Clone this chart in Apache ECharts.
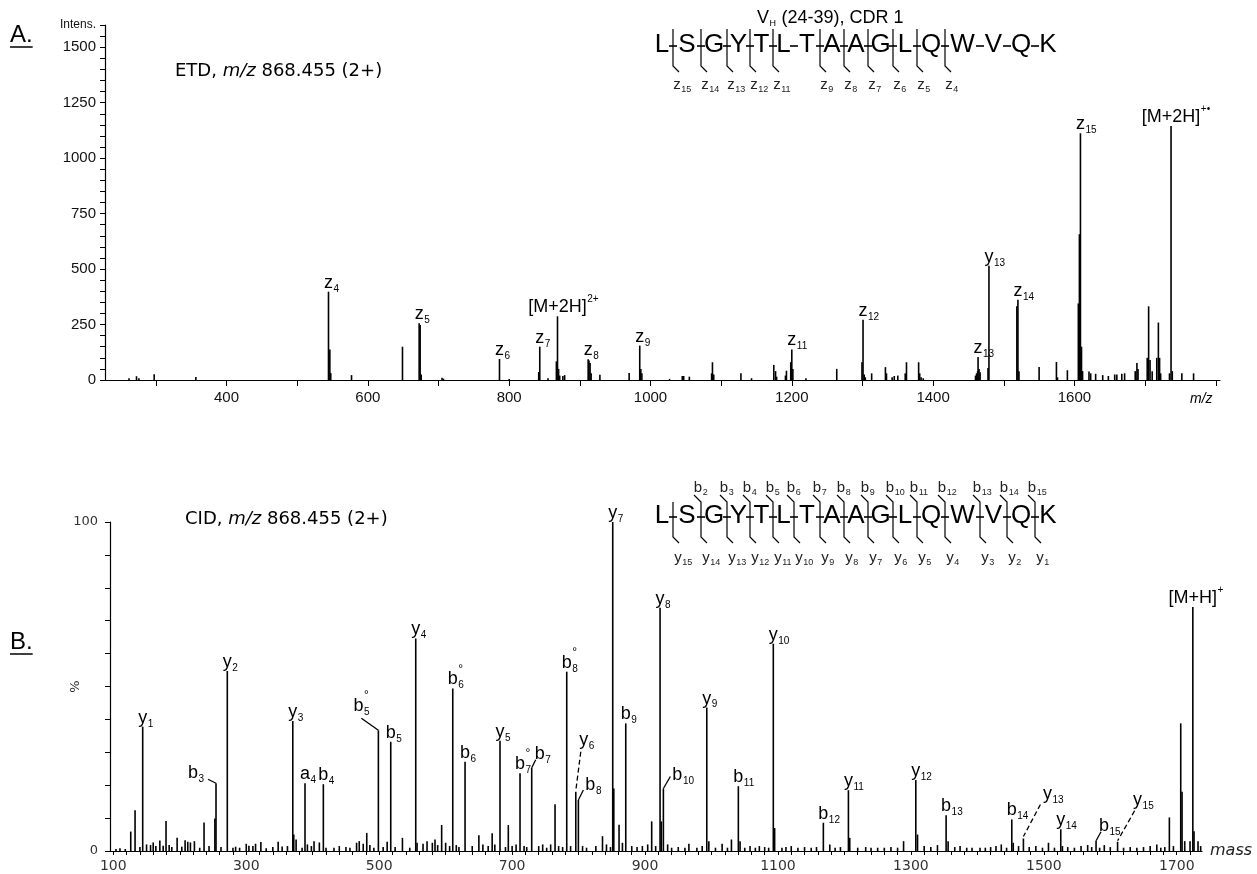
<!DOCTYPE html>
<html>
<head>
<meta charset="utf-8">
<script src="https://cdn.jsdelivr.net/npm/echarts@6/dist/echarts.min.js"></script>
<style>
  html, body { margin: 0; padding: 0; background: #fff; }
  #chart { width: 1257px; height: 874px; }
</style>
</head>
<body>
<div id="chart"></div>
<script>
// ---------- Panel A: ETD spectrum of m/z 868.455 (2+) ----------
const etdMz = [
  262, 272.6, 276, 297.6, 356.6,
  544.3, 546.2, 547.5, 576.9,
  649, 672.6, 674, 675.5, 705, 707,
  786.3, 800, 841.8, 843.3, 855,
  866.8, 868.4, 870, 871.5, 876, 878.5,
  911.8, 913, 914.5, 916, 928.4, 969.8,
  984.8, 986.3, 987.8, 1027, 1045, 1047, 1055,
  1086.5, 1087.7, 1089.5, 1128, 1143,
  1174.5, 1177, 1178.5, 1191, 1192.4, 1198.5, 1200, 1201.5,
  1220, 1263.6, 1299.3, 1300.8, 1302.5, 1304,
  1313, 1332.5, 1334, 1342, 1345, 1350,
  1360.5, 1362.3, 1379.5, 1381, 1383, 1386,
  1460, 1461.5, 1463, 1463.6, 1465, 1466.5,
  1477.7, 1479, 1518.5, 1520, 1521.5,
  1550, 1574.5, 1576, 1590,
  1605.5, 1607, 1608.5, 1610, 1611.5,
  1620.6, 1623, 1630, 1640, 1648, 1657, 1660, 1667, 1671,
  1686, 1688.4, 1690, 1703, 1705, 1707, 1710,
  1716.5, 1718.8, 1720.5, 1722, 1734.5, 1736.7, 1738.5,
  1752, 1768.6
];
const etdInt = [
  8, 17, 8, 26, 13,
  398, 138, 31, 22,
  150, 256, 248, 25, 10, 6,
  95, 5, 36, 150, 8,
  84, 287, 50, 20, 18, 22,
  93, 88, 77, 30, 24, 31,
  155, 50, 30, 5, 18, 18, 15,
  30, 80, 25, 30, 8,
  68, 40, 15, 20, 42, 80, 138, 50,
  8, 50, 80, 272, 25, 12,
  30, 58, 30, 12, 18, 20,
  30, 80, 80, 30, 12, 8,
  20, 30, 40, 104, 50, 35,
  54, 515, 332, 362, 40,
  59, 81, 12, 44,
  345, 657, 1112, 150, 40,
  38, 30, 28, 22, 18, 25, 25, 28, 30,
  40, 77, 50, 100, 332, 90, 40,
  100, 259, 100, 30, 30, 1145, 40,
  30, 30
];
const etdIonNames = ['z_4', 'z_5', 'z_6', 'z_7', '[M+2H]^2+', 'z_8', 'z_9', 'z_11',
  'z_12', 'z_13', 'y_13', 'z_14', 'z_15', '[M+2H]^+•'];
const etdIonMz = [544.3, 672.6, 786.3, 843.3, 868.4, 911.8, 984.8, 1200,
  1300.8, 1463.6, 1479, 1520, 1608.5, 1736.7];

const etdXTicks = [300, 400, 500, 600, 700, 800, 900, 1000, 1100, 1200, 1300, 1400, 1500, 1600, 1700, 1800];
const etdXLabels = [400, 600, 800, 1000, 1200, 1400, 1600];
const etdYLabels = [0, 250, 500, 750, 1000, 1250, 1500, 1600];

// ---------- Panel B: CID spectrum of m/z 868.455 (2+) ----------
const cidMz = [
  126.2, 132.7, 144.2, 179.3, 236.5, 252.8, 254.5, 271.5,
  370, 371.5, 375, 388.4, 416, 481.3, 498.8, 517.4, 535, 555,
  594, 610.7, 629.2, 681.8, 694.3, 711.9, 729.5, 764.6,
  782.2, 795.8, 799.7, 851.4, 853, 860.9, 871, 910,
  922.6, 924.5, 927.6, 992.9, 1040.4, 1093, 1095,
  1168.3, 1206, 1307.4, 1353, 1451.8, 1469.3, 1525.5,
  1578.6, 1611, 1688.9, 1706, 1708, 1724.2, 1726
];
const cidInt = [
  5.9, 12.4, 37.8, 9.1, 8.7, 9.9, 20.6, 54.7,
  39.5, 5, 3.5, 20.6, 20.3, 5.5, 36.7, 33.2, 4, 64.6,
  7.9, 49.4, 27.1, 33.5, 7.9, 23.6, 25.3, 14.2,
  54.5, 18, 15.5, 100, 19, 8, 38.8, 9,
  73.9, 9, 19, 43.6, 19.7, 63, 7,
  8.6, 18.5, 21.6, 10.9, 9.6, 3.8, 6.6,
  3.1, 2.8, 10.2, 38.8, 18, 74.2, 6
];
// low-level peaks along the baseline
const cidMinorMz = [
  104, 110, 118, 140, 150, 156, 160, 164, 170, 175, 184, 188, 196, 203, 208, 212, 216, 222,
  230, 244, 262, 280, 284, 290, 300, 304, 310, 314, 322, 330, 340, 348, 354, 362, 384, 392,
  398, 402, 410, 420, 432, 440, 450, 456, 466, 470, 476, 486, 492, 506, 512, 524, 546, 557,
  566, 572, 580, 584, 588, 600, 606, 616, 620, 640, 650, 656, 664, 670, 674, 690, 700, 706,
  718, 722, 740, 746, 752, 758, 770, 776, 788, 806, 812, 826, 836, 842, 848, 866, 880, 888,
  896, 904, 916, 934, 940, 950, 960, 966, 978, 986, 996, 1006, 1016, 1024, 1030, 1043, 1050,
  1058, 1066, 1072, 1080, 1086, 1106, 1112, 1120, 1130, 1140, 1150, 1158, 1178, 1186, 1194,
  1208, 1220, 1232, 1240, 1250, 1260, 1270, 1280, 1289, 1310, 1320, 1330, 1340, 1356, 1366,
  1374, 1384, 1392, 1404, 1412, 1420, 1428, 1436, 1444, 1454, 1462, 1478, 1488, 1498, 1507,
  1516, 1528, 1536, 1546, 1556, 1566, 1572, 1584, 1591, 1600, 1620, 1630, 1640, 1650, 1660,
  1670, 1676, 1682, 1695, 1712, 1720, 1732, 1736
];
const cidMinorInt = [
  0.6, 0.8, 0.6, 1.2, 2.0, 1.8, 2.6, 1.5, 3.2, 1.6, 1.8, 1.2, 4.0, 1.3, 3.3, 2.8, 2.6, 3.0,
  1.0, 1.5, 1.2, 1.0, 1.3, 1.0, 2.2, 1.6, 1.5, 2.2, 2.7, 0.8, 1.2, 2.8, 1.4, 1.5, 1.0, 2.0,
  1.5, 3.0, 2.6, 1.0, 1.0, 1.5, 1.2, 1.0, 2.5, 3.0, 2.2, 1.8, 1.0, 1.2, 2.8, 1.2, 1.0, 2.5,
  2.2, 3.0, 2.5, 3.5, 1.8, 2.5, 1.5, 1.8, 1.2, 1.5, 4.8, 2.0, 1.5, 5.4, 2.0, 1.2, 1.5, 2.0,
  1.5, 1.2, 1.5, 2.0, 1.0, 2.0, 1.5, 1.2, 1.5, 1.5, 1.0, 1.5, 4.5, 2.0, 1.2, 2.5, 1.5, 1.2,
  1.5, 2.0, 1.5, 2.0, 1.0, 1.2, 1.0, 2.2, 1.0, 1.5, 3.0, 1.0, 2.2, 1.0, 3.5, 3.0, 1.0,
  1.5, 1.0, 1.5, 1.2, 1.0, 1.0, 1.2, 1.5, 1.0, 1.2, 1.0, 1.2, 2.0, 1.0, 1.2,
  4.0, 1.0, 1.2, 1.0, 1.0, 1.0, 1.2, 1.0, 3.0, 5.0, 1.5, 1.2, 1.8, 3.0, 1.2,
  1.5, 1.0, 1.0, 1.0, 1.0, 1.2, 1.5, 2.0, 1.0, 2.5, 1.5, 1.2, 1.5, 1.0, 2.5,
  1.0, 1.5, 1.2, 1.0, 1.5, 1.8, 1.2, 1.0, 1.8, 1.2, 1.0, 1.2, 1.0, 1.2, 1.5,
  2.0, 1.0, 1.2, 1.5, 3.0, 3.0, 3.0, 1.5
];
const cidIonNames = ['y_1', 'b_3', 'y_2', 'y_3', 'a_4', 'b_4', 'b_5^°', 'b_5', 'y_4',
  'b_6^°', 'b_6', 'y_5', 'b_7^°', 'b_7', 'b_8^°', 'y_6', 'b_8', 'y_7', 'b_9', 'y_8',
  'b_10', 'y_9', 'b_11', 'y_10', 'b_12', 'y_11', 'y_12', 'b_13', 'b_14', 'y_13',
  'y_14', 'b_15', 'y_15', '[M+H]^+'];
const cidIonMz = [144.2, 254.5, 271.5, 370, 388.4, 416, 498.8, 517.4, 555,
  610.7, 629.2, 681.8, 711.9, 729.5, 782.2, 795.8, 799.7, 851.4, 871, 922.6,
  927.6, 992.9, 1040.4, 1093, 1168.3, 1206, 1307.4, 1353, 1451.8, 1469.3,
  1525.5, 1578.6, 1611, 1724.2];

const cidXLabels = [100, 300, 500, 700, 900, 1100, 1300, 1500, 1700];
const cidYLabels = [0, 100];

// ---------- Peptide sequence and fragment ladders ----------
const residues = ['L', 'S', 'G', 'Y', 'T', 'L', 'T', 'A', 'A', 'G', 'L', 'Q', 'W', 'V', 'Q', 'K'];
const etdBondIons = ['z_15', 'z_14', 'z_13', 'z_12', 'z_11', '', 'z_9', 'z_8', 'z_7', 'z_6', 'z_5', 'z_4', '', '', ''];
const cidBondB = ['', 'b_2', 'b_3', 'b_4', 'b_5', 'b_6', 'b_7', 'b_8', 'b_9', 'b_10', 'b_11', 'b_12', 'b_13', 'b_14', 'b_15'];
const cidBondY = ['y_15', 'y_14', 'y_13', 'y_12', 'y_11', 'y_10', 'y_9', 'y_8', 'y_7', 'y_6', 'y_5', 'y_4', 'y_3', 'y_2', 'y_1'];

// ---------- layout (pixels) ----------
const bondX = [673, 701, 727, 750, 773, 794, 820, 844, 868, 893, 917, 945, 980, 1007, 1035];
const etdSeqY = 45;
const cidSeqY = 516;

// label offsets for annotations that sit beside their peak
const cidLabelLayout = {
  'b_3':   { dx: -23, dy: -1, leader: [[-8, -4], [0, 0]] },
  'b_5^°': { dx: -20, dy: -15, leader: [[-17, -12], [0, 0]] },
  'b_7':   { dx: 8, dy: -5, leader: [[0, 0], [4, -8]] },
  'y_6':   { dx: 8, dy: -43, leader: [[5, -40], [0, -1]], dashed: true },
  'b_8':   { dx: 12, dy: -6, leader: [[0, 0], [5, -10]] },
  'b_10':  { dx: 14, dy: -4, leader: [[0, 0], [7, -12]] },
  'y_13':  { dx: 24, dy: -35, leader: [[17, -34], [0, -2]], dashed: true },
  'b_15':  { dx: 8, dy: -6, leader: [[0, 0], [5, -9]] },
  'y_15':  { dx: 20, dy: -33, leader: [[17, -31], [0, -1]], dashed: true }
};

const LABEL_FONT = '"Liberation Sans", Arial, sans-serif';
const TITLE_FONT = '"DejaVu Sans", Verdana, sans-serif';

const measureCtx = document.createElement('canvas').getContext('2d');
function textWidth(str, size, family) {
  measureCtx.font = size + 'px ' + family;
  return measureCtx.measureText(str).width;
}

// "b_5^°" -> base "b", subscript "5", superscript "°"
function parseIon(name) {
  let base = name, sub = '', sup = '';
  const ci = base.indexOf('^');
  if (ci >= 0) { sup = base.slice(ci + 1); base = base.slice(0, ci); }
  const ui = base.indexOf('_');
  if (ui >= 0) { sub = base.slice(ui + 1); base = base.slice(0, ui); }
  return { base, sub, sup };
}

function txt(text, x, y, size, va) {
  return {
    type: 'text', x: x, y: y, z: 10,
    style: { text: text, fontSize: size, fontFamily: LABEL_FONT, fill: '#000', align: 'left', verticalAlign: va }
  };
}

// ion name centred on ax, bottom of the main glyph box at ay
function ionTextEls(name, ax, ay, size, subSize, fill) {
  const p = parseIon(name);
  const w = textWidth(p.base, size, LABEL_FONT);
  const x0 = ax - w / 2;
  const els = [txt(p.base, x0, ay, size, 'bottom')];
  if (p.sub) els.push(txt(p.sub, x0 + w + 0.5, ay + size * 0.12, subSize, 'bottom'));
  if (p.sup === '°') els.push(txt('°', x0 + w + 0.5, ay - size * 1.4, Math.round(size * 0.67), 'top'));
  else if (p.sup) els.push(txt(p.sup, x0 + w + 0.5, ay - size * 1.22, subSize, 'top'));
  if (fill) els.forEach(e => { e.style.fill = fill; });
  return els;
}

function pairs(xs, ys) { return xs.map((x, i) => [x, ys[i]]); }

function lookupIntensity(mzList, intList, mz) {
  const i = mzList.indexOf(mz);
  return i >= 0 ? intList[i] : 0;
}

function stickRender(params, api) {
  const top = api.coord([api.value(0), api.value(1)]);
  const base = api.coord([api.value(0), 0]);
  return {
    type: 'line',
    shape: { x1: top[0], y1: top[1], x2: base[0], y2: base[1] },
    style: { stroke: '#000', lineWidth: 1.6 }
  };
}

function labelRender(names, layout) {
  return function (params, api) {
    const name = names[api.value(2)];
    const pt = api.coord([api.value(0), api.value(1)]);
    const L = layout[name] || {};
    const children = ionTextEls(name, pt[0] + (L.dx || 0), pt[1] + (L.dy || 0), 18, 10);
    if (L.leader) {
      children.push({
        type: 'polyline',
        shape: { points: L.leader.map(q => [pt[0] + q[0], pt[1] + q[1]]) },
        style: { stroke: '#000', lineWidth: 1.3, fill: null, lineDash: L.dashed ? [5, 3] : null }
      });
    }
    return { type: 'group', children: children };
  };
}

const etdLabelData = etdIonMz.map((m, i) => [m, lookupIntensity(etdMz, etdInt, m), i]);
const cidAllMz = cidMz.concat(cidMinorMz);
const cidAllInt = cidInt.concat(cidMinorInt);
const cidLabelData = cidIonMz.map((m, i) => [m, lookupIntensity(cidMz, cidInt, m), i]);

// ---------- graphic: panel letters, titles, sequence ladders ----------
function residueCentres() {
  return residues.map((r, i) => {
    if (i === 0) return bondX[0] - 11;
    if (i === residues.length - 1) return bondX[bondX.length - 1] + 13;
    return (bondX[i - 1] + bondX[i]) / 2;
  });
}

function sequenceEls(cy, topIons, bottomIons, topIsB) {
  const els = [];
  const cx = residueCentres();
  residues.forEach((r, i) => {
    els.push({
      type: 'text', x: cx[i], y: cy,
      style: { text: r, fontSize: 26, fontFamily: LABEL_FONT, fill: '#000', align: 'center', verticalAlign: 'middle' }
    });
  });
  bondX.forEach((h, i) => {
    els.push({ type: 'line', shape: { x1: h - 4, y1: cy + 1, x2: h + 4, y2: cy + 1 }, style: { stroke: '#000', lineWidth: 1.6 } });
    const hasBottom = bottomIons[i] !== '';
    const hasTop = topIons && topIons[i] !== '';
    if (!hasBottom && !hasTop) return;
    const pts = [];
    if (hasTop) { pts.push([h - 7, cy - 21]); pts.push([h, cy - 14]); }
    else pts.push([h, topIsB ? cy - 14 : cy - 16]);
    pts.push([h, cy + 21]);
    pts.push([h + 6, cy + 27]);
    els.push({ type: 'polyline', shape: { points: pts }, style: { stroke: '#000', lineWidth: 1.2, fill: null } });
    if (hasBottom) {
      ionTextEls(bottomIons[i], h + (topIsB ? 5 : 4), cy + (topIsB ? 49 : 47), 15, 9, '#222').forEach(e => els.push(e));
    }
    if (hasTop) {
      ionTextEls(topIons[i], h - 3, cy - 21, 15, 9, '#222').forEach(e => els.push(e));
    }
  });
  return els;
}

function underlinedLetter(text, x, y) {
  const w = textWidth(text, 24, LABEL_FONT);
  return [
    { type: 'text', x: x, y: y, style: { text: text, fontSize: 24, fontFamily: LABEL_FONT, fill: '#000', align: 'left', verticalAlign: 'middle' } },
    { type: 'line', shape: { x1: x, y1: y + 12, x2: x + w, y2: y + 12 }, style: { stroke: '#000', lineWidth: 1.5 } }
  ];
}

function titleEl(prefix, x, y) {
  return {
    type: 'text', x: x, y: y,
    style: {
      text: '{n|' + prefix + ', }{i|m/z}{n| 868.455 (2+)}',
      fontFamily: TITLE_FONT, fontSize: 18, fill: '#000', align: 'left', verticalAlign: 'middle',
      rich: {
        n: { fontFamily: TITLE_FONT, fontSize: 18, fill: '#000' },
        i: { fontFamily: TITLE_FONT, fontSize: 18, fontStyle: 'italic', fill: '#000' }
      }
    }
  };
}

function peptideTitle(x, y) {
  const wV = textWidth('V', 18, LABEL_FONT);
  const wH = textWidth('H', 9, LABEL_FONT);
  return [
    { type: 'text', x: x, y: y, style: { text: 'V', fontSize: 18, fontFamily: LABEL_FONT, fill: '#000', align: 'left', verticalAlign: 'middle' } },
    { type: 'text', x: x + wV + 0.5, y: y + 6, style: { text: 'H', fontSize: 9, fontFamily: LABEL_FONT, fill: '#000', align: 'left', verticalAlign: 'middle' } },
    { type: 'text', x: x + wV + wH + 1, y: y, style: { text: ' (24-39), CDR 1', fontSize: 18, fontFamily: LABEL_FONT, fill: '#000', align: 'left', verticalAlign: 'middle' } }
  ];
}

const graphics = [].concat(
  underlinedLetter('A.', 10, 35),
  underlinedLetter('B.', 10, 642),
  [titleEl('ETD', 175, 71), titleEl('CID', 185, 519)],
  peptideTitle(757, 18),
  sequenceEls(etdSeqY, null, etdBondIons, false),
  sequenceEls(cidSeqY, cidBondB, cidBondY, true),
  [{
    type: 'text', x: 1190, y: 399,
    style: { text: 'm/z', fontSize: 14, fontFamily: LABEL_FONT, fontStyle: 'italic', fill: '#000', align: 'left', verticalAlign: 'middle' }
  }]
);

const etdYTicks = [];
for (let v = 0; v <= 1600; v += 50) etdYTicks.push(v);
const cidXTicks = [];
for (let v = 100; v <= 1720; v += 20) cidXTicks.push(v);

const plain = v => String(v);

const chart = echarts.init(document.getElementById('chart'), null, { renderer: 'canvas' });
chart.setOption({
  animation: false,
  backgroundColor: '#fff',
  grid: [
    { left: 105, top: 25, width: 1115, height: 355, outerBoundsMode: 'none', containLabel: false },
    { left: 110, top: 522, width: 1092, height: 329, outerBoundsMode: 'none', containLabel: false }
  ],
  xAxis: [
    {
      type: 'value', gridIndex: 0, min: 228, max: 1806,
      axisLine: { show: true, lineStyle: { color: '#000', width: 1.2 } },
      axisTick: { show: true, customValues: etdXTicks, length: 6, lineStyle: { color: '#000' } },
      axisLabel: { customValues: etdXLabels, formatter: plain, fontSize: 15, fontFamily: LABEL_FONT, color: '#111', margin: 10 },
      splitLine: { show: false }
    },
    {
      type: 'value', gridIndex: 1, min: 95, max: 1738,
      name: 'mass', nameLocation: 'end', nameGap: 8,
      nameTextStyle: { fontSize: 16, fontFamily: TITLE_FONT, fontStyle: 'italic', color: '#222' },
      axisLine: { show: true, lineStyle: { color: '#000', width: 1.2 } },
      axisTick: { show: true, customValues: cidXTicks, length: 4, lineStyle: { color: '#000' } },
      axisLabel: { customValues: cidXLabels, formatter: plain, fontSize: 14, fontFamily: TITLE_FONT, color: '#333', margin: 8 },
      splitLine: { show: false }
    }
  ],
  yAxis: [
    {
      type: 'value', gridIndex: 0, min: 0, max: 1600,
      axisLine: { show: true, lineStyle: { color: '#000', width: 1.2 } },
      axisTick: { show: true, customValues: etdYTicks, length: 5, lineStyle: { color: '#000' } },
      axisLabel: {
        customValues: etdYLabels, fontSize: 15, fontFamily: LABEL_FONT, color: '#111', margin: 9,
        formatter: v => (v === 1600 ? '{s|Intens.}' : String(v)),
        rich: { s: { fontSize: 12, fontFamily: LABEL_FONT, color: '#111' } }
      },
      splitLine: { show: false }
    },
    {
      type: 'value', gridIndex: 1, min: 0, max: 100, interval: 10,
      name: '%', nameLocation: 'middle', nameGap: 28, nameRotate: 90, nameMoveOverlap: false,
      nameTextStyle: { fontSize: 13, fontFamily: TITLE_FONT, color: '#333' },
      axisLine: { show: true, lineStyle: { color: '#000', width: 1.2 } },
      axisTick: { show: true, length: 5, lineStyle: { color: '#000' } },
      axisLabel: { customValues: cidYLabels, formatter: plain, fontSize: 13, fontFamily: TITLE_FONT, color: '#333', margin: 12 },
      splitLine: { show: false }
    }
  ],
  series: [
    {
      type: 'custom', name: 'ETD', xAxisIndex: 0, yAxisIndex: 0, silent: true, clip: true,
      data: pairs(etdMz, etdInt), renderItem: stickRender
    },
    {
      type: 'custom', name: 'ETD ions', xAxisIndex: 0, yAxisIndex: 0, silent: true,
      data: etdLabelData, renderItem: labelRender(etdIonNames, {})
    },
    {
      type: 'custom', name: 'CID', xAxisIndex: 1, yAxisIndex: 1, silent: true, clip: true,
      data: pairs(cidAllMz, cidAllInt), renderItem: stickRender
    },
    {
      type: 'custom', name: 'CID ions', xAxisIndex: 1, yAxisIndex: 1, silent: true,
      data: cidLabelData, renderItem: labelRender(cidIonNames, cidLabelLayout)
    }
  ],
  graphic: { elements: graphics }
});
</script>
</body>
</html>
